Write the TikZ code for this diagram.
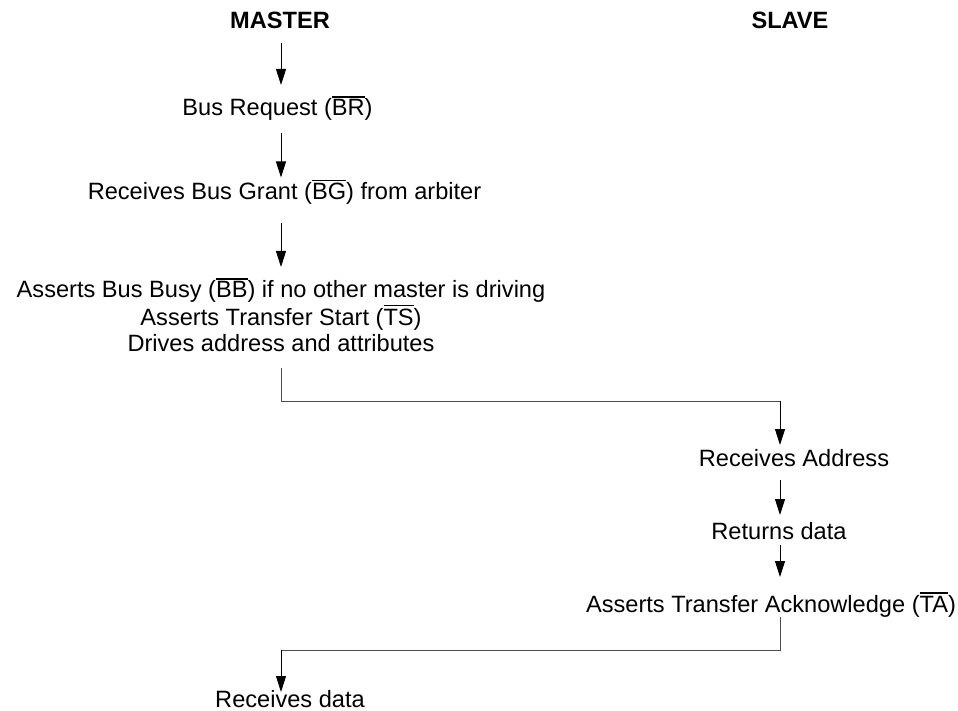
\documentclass[tikz,border=0pt]{standalone}
\usepackage{fontspec}
\setmainfont{Liberation Sans}
\usetikzlibrary{arrows.meta,calc}
\newcommand\ob[1]{\leavevmode\setbox0\hbox{#1}\rlap{\rule[\dimexpr\ht0+2.2pt\relax]{\wd0}{1.3pt}}\box0}
\begin{document}
\begin{tikzpicture}[x=1pt,y=-1pt,
  lbl/.style={inner sep=0pt,anchor=base,font=\fontsize{23.6}{28}\selectfont},
  hdr/.style={lbl,font=\fontsize{23.6}{28}\selectfont\bfseries},
  arr/.style={draw=black,line width=0.9pt,-{Triangle[length=16pt,width=10pt]}},
  wire/.style={draw=black!70,line width=1pt}]
\useasboundingbox (0,0) rectangle (958,711);
\coordinate (mcol) at (281,0);
\coordinate (scol) at (780,0);
\node[hdr] (master) at (280,29) {MASTER};
\node[hdr] (slave) at (790,29) {SLAVE};
\node[lbl] (br) at (277.5,116) {Bus Request (\ob{BR})};
\node[lbl] (bg) at (284.5,199.5) {Receives Bus Grant (\ob{BG}) from arbiter};
\node[lbl] (b1) at (281,298) {Asserts Bus Busy (\ob{BB}) if no other master is driving};
\node[lbl] (b2) at (281,325) {Asserts Transfer Start (\ob{TS})};
\node[lbl] (b3) at (281,351) {Drives address and attributes};
\node[lbl] (ra) at (794,466) {Receives Address};
\node[lbl] (rd) at (779,539) {Returns data};
\node[lbl] (ta) at (771,612) {Asserts Transfer Acknowledge (\ob{TA})};
\node[lbl] (rx) at (290,707) {Receives data};
\draw[arr] ($(master.base -| mcol)+(0,14)$) -- ($(br.base -| mcol)+(0,-31)$);
\draw[arr] ($(br.base -| mcol)+(0,17)$) -- ($(bg.base -| mcol)+(0,-22)$);
\draw[arr] ($(bg.base -| mcol)+(0,24)$) -- ($(b1.base -| mcol)+(0,-31)$);
\draw[wire] ($(b3.base -| mcol)+(0,17)$) coordinate (w1) -- ($(w1)+(0,33)$) coordinate (w2) -- (w2 -| scol) coordinate (w3);
\draw[arr] (w3) -- ($(ra.base -| scol)+(0,-21)$);
\draw[arr] ($(ra.base -| scol)+(0,14)$) -- ($(rd.base -| scol)+(0,-24)$);
\draw[arr] ($(rd.base -| scol)+(0,6)$) -- ($(ta.base -| scol)+(0,-35)$);
\draw[wire] ($(ta.base -| scol)+(0,5)$) coordinate (v1) -- ($(v1)+(0,33)$) coordinate (v2) -- (v2 -| mcol) coordinate (v3);
\draw[arr] (v3) -- ($(rx.base -| mcol)+(0,-15)$);
\end{tikzpicture}
\end{document}
